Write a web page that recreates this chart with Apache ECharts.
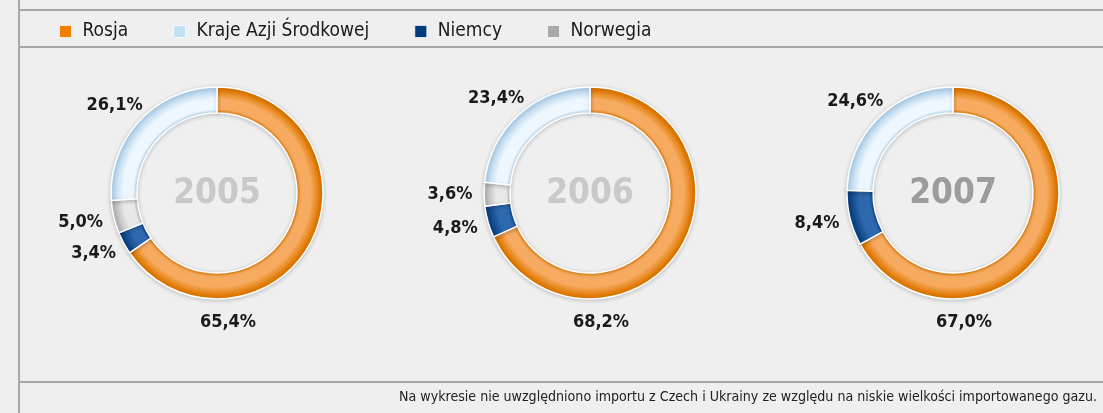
<!DOCTYPE html>
<html>
<head>
<meta charset="utf-8">
<script src="https://cdn.jsdelivr.net/npm/echarts@6/dist/echarts.min.js"></script>
<style>
  html, body { margin: 0; padding: 0; background: #efefef; }
  #gasChart { width: 1103px; height: 413px; }
</style>
</head>
<body>
<div id="gasChart"></div>
<script>
// dane: udział kierunków importu gazu (%)
const years = ['2005', '2006', '2007'];
const sources = ['Rosja', 'Niemcy', 'Norwegia', 'Kraje Azji Środkowej']; // kolejność na wykresie (zgodnie z ruchem wskazówek)
const legendOrder = ['Rosja', 'Kraje Azji Środkowej', 'Niemcy', 'Norwegia'];
const rosja = [65.4, 68.2, 67.0];
const niemcy = [3.4, 4.8, 8.4];
const norwegia = [5.0, 3.6, 0];
const azja = [26.1, 23.4, 24.6];
const footnote = 'Na wykresie nie uwzględniono importu z Czech i Ukrainy ze względu na niskie wielkości importowanego gazu.';

const FONT = '"DejaVu Sans Condensed", "Liberation Sans Narrow", sans-serif';
const centersX = [217, 590, 953];
const centerY = 193;
const rIn = 80, rOut = 106;
const labelRx = 140, labelRy = 128;

// kolory: [krawędź, środek, legenda] dla efektu "rurki"
const tones = {
  'Rosja': ['#df7800', '#f7ab60', '#ee7f00'],
  'Kraje Azji Środkowej': ['#b6d5ee', '#eef7fd', '#c2e1f5'],
  'Niemcy': ['#0a4284', '#2e68ae', '#003c7d'],
  'Norwegia': ['#b8b8b8', '#e8e8e8', '#a9a9a9']
};
const yearColors = ['#c9c9c9', '#c9c9c9', '#9c9c9c'];

function tube(cx, name) {
  const t = tones[name];
  const s = rIn / rOut;
  return {
    type: 'radial', x: cx, y: centerY, r: rOut, global: true,
    colorStops: [
      { offset: 0, color: t[0] },
      { offset: s, color: t[0] },
      { offset: s + 0.035, color: t[1] },
      { offset: s + 0.13, color: t[1] },
      { offset: 0.975, color: t[0] },
      { offset: 1, color: t[0] }
    ]
  };
}

function layoutFor(i) {
  const vals = [rosja[i], niemcy[i], norwegia[i], azja[i]];
  const total = vals.reduce((a, b) => a + b, 0);
  return function (p) {
    const cx = centersX[i];
    if (p.dataIndex === 0) {
      // etykieta Rosji pod pierścieniem
      return { x: cx + 11, y: centerY + 129, align: 'center', verticalAlign: 'middle' };
    }
    let before = 0;
    for (let k = 0; k < p.dataIndex; k++) before += vals[k];
    const a = (before + vals[p.dataIndex] / 2) / total * 2 * Math.PI;
    return {
      x: cx + labelRx * Math.sin(a),
      y: centerY - labelRy * Math.cos(a),
      align: 'center', verticalAlign: 'middle'
    };
  };
}

const series = years.map((y, i) => {
  const vals = [rosja[i], niemcy[i], norwegia[i], azja[i]];
  return {
    type: 'pie',
    name: y,
    center: [centersX[i], centerY],
    radius: [rIn, rOut],
    startAngle: 90,
    clockwise: true,
    silent: true,
    avoidLabelOverlap: false,
    data: sources.map((s, k) => ({
      name: s,
      value: vals[k],
      itemStyle: { color: tube(centersX[i], s) },
      label: { show: vals[k] > 0 }
    })),
    itemStyle: {
      borderColor: '#ffffff',
      borderWidth: 1.5,
      shadowBlur: 4,
      shadowColor: 'rgba(0,0,0,0.18)',
      shadowOffsetY: 1
    },
    label: {
      position: 'outside',
      formatter: p => p.value.toFixed(1).replace('.', ',') + '%',
      fontFamily: FONT,
      fontSize: 18,
      fontWeight: 'bold',
      color: '#1a1a1a'
    },
    labelLine: { show: false },
    labelLayout: layoutFor(i)
  };
});

const chart = echarts.init(document.getElementById('gasChart'));
chart.setOption({
  backgroundColor: '#efefef',
  animation: false,
  title: years.map((y, i) => ({
    text: y,
    left: centersX[i],
    top: centerY + 1,
    textAlign: 'center',
    textVerticalAlign: 'middle',
    padding: 0,
    textStyle: { fontFamily: FONT, fontSize: 35, fontWeight: 'bold', color: yearColors[i] }
  })).concat([{
    text: footnote,
    right: 6,
    top: 390,
    padding: 0,
    textStyle: { fontFamily: FONT, fontSize: 14.1, fontWeight: 'normal', color: '#222222' }
  }]),
  legend: {
    left: 59,
    top: 22,
    padding: 0,
    itemWidth: 12,
    itemHeight: 12,
    itemGap: 45,
    icon: 'rect',
    selectedMode: false,
    data: legendOrder.map(n => ({
      name: n,
      itemStyle: { color: tones[n][2], borderColor: 'rgba(255,255,255,0.7)', borderWidth: 1 }
    })),
    textStyle: { fontFamily: FONT, fontSize: 19, color: '#1a1a1a', padding: [0, 0, 0, 6] }
  },
  graphic: [
    { type: 'line', shape: { x1: 19, y1: 0, x2: 19, y2: 413 }, style: { stroke: '#a8a8a8', lineWidth: 2 } },
    { type: 'line', shape: { x1: 19, y1: 10, x2: 1103, y2: 10 }, style: { stroke: '#a8a8a8', lineWidth: 2 } },
    { type: 'line', shape: { x1: 19, y1: 47, x2: 1103, y2: 47 }, style: { stroke: '#a8a8a8', lineWidth: 2 } },
    { type: 'line', shape: { x1: 19, y1: 382, x2: 1103, y2: 382 }, style: { stroke: '#a8a8a8', lineWidth: 2 } }
  ],
  series: series
});
</script>
</body>
</html>
